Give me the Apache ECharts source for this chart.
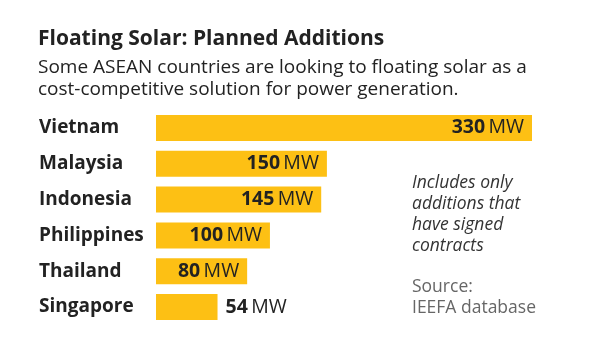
<!DOCTYPE html>
<html>
<head>
<meta charset="utf-8">
<script src="https://cdn.jsdelivr.net/npm/echarts@6/dist/echarts.min.js"></script>
<style>html,body{margin:0;padding:0;background:#fff;}#c{width:600px;height:360px;}</style>
</head>
<body>
<div id="c"></div>
<script>
const categories = ["Vietnam", "Malaysia", "Indonesia", "Philippines", "Thailand", "Singapore"];
const values = [330, 150, 145, 100, 80, 54];
const unit = "MW";
const titleText = "Floating Solar: Planned Additions";
const subtitleLines = ["Some ASEAN countries are looking to floating solar as a", "cost-competitive solution for power generation."];
const noteLines = ["Includes only", "additions that", "have signed", "contracts"];
const sourceLines = ["Source:", "IEEFA database"];

const FONT = "'Open Sans', 'Noto Sans', sans-serif";
const chart = echarts.init(document.getElementById('c'), null, {renderer: 'canvas'});

const data = values.map((v, i) => {
  const outside = v < 60;
  return {
    value: v,
    label: {
      show: true,
      position: outside ? 'right' : 'insideRight',
      distance: 8,
      formatter: '{b|' + v + '} {r|' + unit + '}'
    }
  };
});

chart.setOption({
  animation: false,
  backgroundColor: '#fff',
  title: [
    {text: titleText, left: 33, top: 24, textStyle: {fontFamily: FONT, fontSize: 21, fontWeight: 'bold', color: '#222'}},
    {text: subtitleLines.join('\n'), left: 33, top: 51, textStyle: {fontFamily: FONT, fontSize: 19, fontWeight: 'normal', color: '#222', lineHeight: 22.5}},
    {text: noteLines.join('\n'), left: 407, top: 168, textStyle: {fontFamily: FONT, fontSize: 17.5, fontStyle: 'italic', fontWeight: 'normal', color: '#333', lineHeight: 20.8}},
    {text: sourceLines.join('\n'), left: 407, top: 272, textStyle: {fontFamily: FONT, fontSize: 17.5, fontWeight: 'normal', color: '#666', lineHeight: 20.5}}
  ],
  grid: {left: 156, right: 68, top: 110, bottom: 35},
  xAxis: {type: 'value', min: 0, max: 330, show: false},
  yAxis: {
    type: 'category', data: categories, inverse: true,
    axisLine: {show: false}, axisTick: {show: false},
    axisLabel: {margin: 117, align: 'left', fontFamily: FONT, fontSize: 19, fontWeight: 'bold', color: '#222'}
  },
  series: [{
    type: 'bar', data: data, barWidth: 26,
    itemStyle: {color: '#fdc014'},
    label: {
      rich: {
        b: {fontFamily: FONT, fontSize: 19.5, fontWeight: 'bold', color: '#222'},
        r: {fontFamily: FONT, fontSize: 19.5, fontWeight: 'normal', color: '#222'}
      }
    }
  }]
});
</script>
</body>
</html>
